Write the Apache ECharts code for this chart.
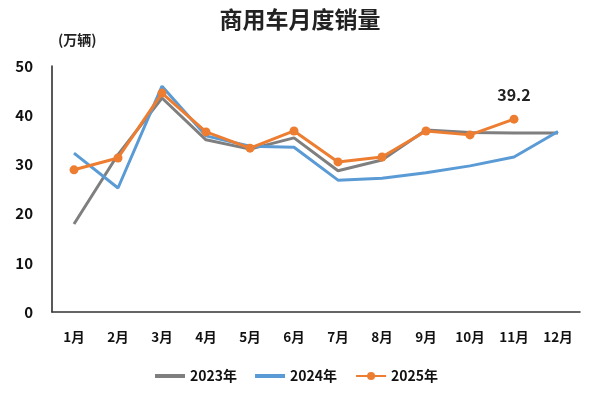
<!DOCTYPE html>
<html><head><meta charset="utf-8">
<script src="https://cdn.jsdelivr.net/npm/echarts@6/dist/echarts.min.js"></script>
<style>html,body{margin:0;padding:0;background:#fff}#c{width:600px;height:394px}</style>
</head><body><div id="c"></div>
<script>
const months = ['1月','2月','3月','4月','5月','6月','7月','8月','9月','10月','11月','12月'];
const s2023 = [17.9, 32.0, 43.5, 35.0, 33.1, 35.4, 28.7, 30.9, 37.0, 36.5, 36.4, 36.4];
const s2024 = [32.3, 25.2, 45.9, 35.8, 33.7, 33.5, 26.8, 27.2, 28.3, 29.7, 31.5, 36.7];
const s2025 = [28.9, 31.3, 44.5, 36.6, 33.3, 36.8, 30.5, 31.5, 36.8, 36.0, 39.2];
const yTicks = [0, 10, 20, 30, 40, 50];
const FONT = '"Noto Sans CJK SC", "Noto Sans", sans-serif';
const LINE_ICON = 'path://M0,0L30,0L30,4L0,4Z';
const chart = echarts.init(document.getElementById('c'), null, {renderer:'canvas'});
chart.setOption({
  animation:false,
  backgroundColor:'#fff',
  textStyle:{fontFamily:FONT},
  title:{text:'商用车月度销量', left:'center', top:3,
    textStyle:{fontFamily:FONT, fontSize:23, fontWeight:'bold', color:'#222'}},
  graphic:[{type:'text', left:58, top:33, style:{text:'(万辆)', font:'bold 14px '+FONT, fill:'#222'}}],
  legend:{bottom:6, left:150, itemWidth:30, itemHeight:10, itemGap:18, symbolKeepAspect:true,
    textStyle:{fontFamily:FONT, fontSize:14, fontWeight:'bold', color:'#111'},
    data:[{name:'2023年', icon:LINE_ICON},{name:'2024年', icon:LINE_ICON},{name:'2025年'}]},
  grid:{left:52, right:20, top:66, bottom:82},
  xAxis:{type:'category', data:months, boundaryGap:true,
    axisLine:{lineStyle:{color:'#333', width:1.5}}, axisTick:{show:false},
    axisLabel:{fontFamily:FONT, fontSize:13.5, fontWeight:'bold', color:'#111', margin:18}},
  yAxis:{type:'value', min:yTicks[0], max:yTicks[yTicks.length-1], interval:10,
    axisLine:{show:true, lineStyle:{color:'#222', width:1.5}}, axisTick:{show:false},
    splitLine:{show:false},
    axisLabel:{fontFamily:FONT, fontSize:15, fontWeight:'bold', color:'#111', margin:19}},
  series:[
    {name:'2023年', type:'line', data:s2023, symbol:'none', lineStyle:{color:'#7f7f7f', width:3}, itemStyle:{color:'#7f7f7f'}},
    {name:'2024年', type:'line', data:s2024, symbol:'none', lineStyle:{color:'#5b9bd5', width:3}, itemStyle:{color:'#5b9bd5'}},
    {name:'2025年', type:'line', data:s2025, symbol:'circle', symbolSize:9, lineStyle:{color:'#ed7d31', width:3}, itemStyle:{color:'#ed7d31'},
      label:{show:true, position:'top', distance:12, fontFamily:FONT, fontSize:16, fontWeight:'bold', color:'#222',
        formatter:p => p.dataIndex === s2025.length-1 ? String(p.value) : ''}}
  ]
});
</script></body></html>
